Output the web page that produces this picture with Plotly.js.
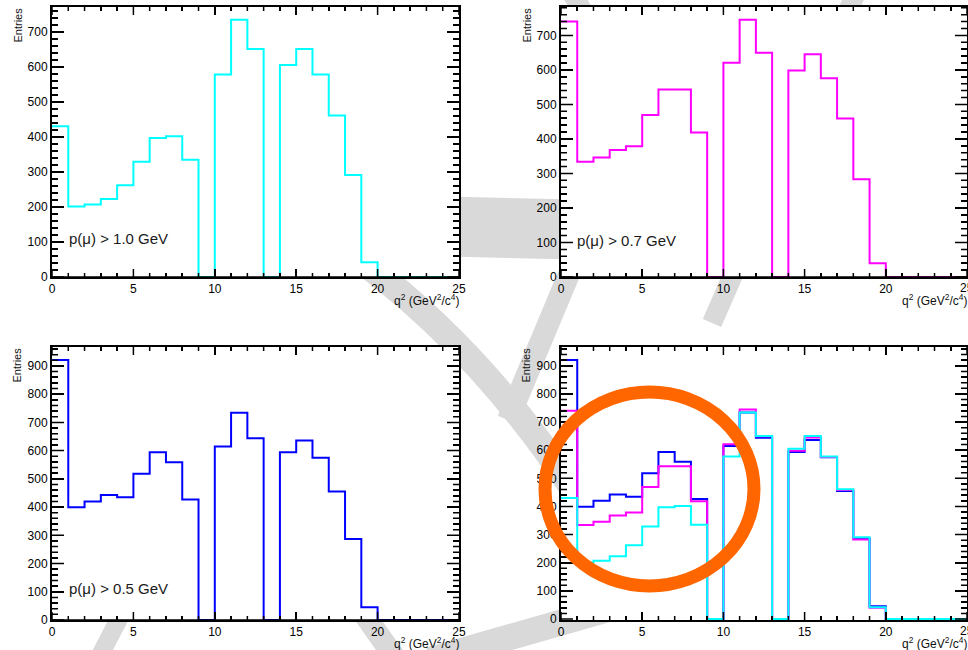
<!DOCTYPE html>
<html>
<head>
<meta charset="utf-8">
<script src="https://cdn.plot.ly/plotly-3.0.1.min.js"></script>
<style>
  html, body { margin: 0; padding: 0; background: #fff; }
  #plot { width: 968px; height: 650px; }
</style>
</head>
<body>
<div id="plot"></div>
<script>
// q^2 binning: 25 bins of 1 GeV^2/c^4 from 0 to 25
const binEdges = [0,1,2,3,4,5,6,7,8,9,10,11,12,13,14,15,16,17,18,19,20,21,22,23,24,25];
const xTickValues = [0,5,10,15,20,25];

// Entries per bin for each muon momentum cut
const entriesP10 = [430,201,207,223,262,329,397,402,335,0,578,734,651,0,605,651,578,461,291,42,0,0,0,0,0];
const entriesP07 = [740,334,346,368,379,469,543,543,419,0,621,745,650,0,598,645,576,459,283,40,0,0,0,0,0];
const entriesP05 = [921,399,420,443,435,518,594,559,427,0,615,734,644,0,594,636,575,455,287,45,0,0,0,0,0];

const cutLabels = ['p(μ) > 1.0 GeV', 'p(μ) > 0.7 GeV', 'p(μ) > 0.5 GeV'];
const seriesColors = ['#00ffff', '#ff00ff', '#0000ff'];

// ---- page geometry (pixels) ----
const W = 968, H = 650;
const px = v => v / W;
const py = v => 1 - v / H;

const colL = [52, 459], colR = [561, 967];
const rowT = [7, 277], rowB = [347, 620];
const panels = [[colL, rowT], [colR, rowT], [colL, rowB], [colR, rowB]];
const axisKeys = ['', '2', '3', '4'];

const FONT = 'Liberation Sans, Arial, Helvetica, sans-serif';

// histogram outline from bin contents (step drawn through Plotly's hv shape)
function stepY(vals) { return vals.concat([vals[vals.length - 1]]); }

function hist(vals, color, xa, ya) {
  return {
    type: 'scatter', mode: 'lines',
    x: binEdges, y: stepY(vals),
    line: { shape: 'hv', color: color, width: 2 },
    xaxis: xa, yaxis: ya, hoverinfo: 'skip', showlegend: false
  };
}

const data = [
  hist(entriesP10, seriesColors[0], 'x', 'y'),
  hist(entriesP07, seriesColors[1], 'x2', 'y2'),
  hist(entriesP05, seriesColors[2], 'x3', 'y3'),
  hist(entriesP05, seriesColors[2], 'x4', 'y4'),
  hist(entriesP07, seriesColors[1], 'x4', 'y4'),
  hist(entriesP10, seriesColors[0], 'x4', 'y4')
];

const tickFont = { family: FONT, size: 12, color: '#000' };

function xAxis(cols, anchor) {
  return {
    domain: [px(cols[0]), px(cols[1])], anchor: anchor,
    range: [0, 25], tickmode: 'array', tickvals: xTickValues,
    ticks: 'inside', ticklen: 8, tickwidth: 1.5, tickcolor: '#000',
    minor: { tickmode: 'linear', tick0: 0, dtick: 1, ticks: 'inside', ticklen: 4, tickwidth: 1.5, tickcolor: '#000' },
    showline: true, linecolor: '#000', linewidth: 2, mirror: 'ticks',
    showgrid: false, zeroline: false, tickfont: tickFont
  };
}

function yAxis(rows, anchor, lo, hi) {
  return {
    domain: [py(rows[1]), py(rows[0])], anchor: anchor,
    range: [lo, hi], tick0: 0, dtick: 100,
    ticks: 'inside', ticklen: 12, tickwidth: 1.5, tickcolor: '#000',
    minor: { tick0: 0, dtick: 20, ticks: 'inside', ticklen: 6, tickwidth: 1.5, tickcolor: '#000' },
    showline: true, linecolor: '#000', linewidth: 2, mirror: 'ticks',
    showgrid: false, zeroline: false, tickfont: tickFont
  };
}

// ROOT-style headroom: maximum * 1.05
const topTL = Math.max(...entriesP10) * 1.05;
const topTR = Math.max(...entriesP07) * 1.05;
const topB = Math.max(...entriesP05, ...entriesP07, ...entriesP10) * 1.05;
// overlay panel: baseline lifted one pixel so empty bins show along the axis
const liftBR = -topB / (rowB[1] - rowB[0]);
const yTops = [topTL, topTR, topB, topB];

// ---- light grey brush-stroke backdrop, cut out where the frames sit ----
const strokeColor = '#d9d9d9';
const strokeLines = [
  [380, 225, 640, 231, 60],
  [508, 420, 600, 200, 22],
  [855, -5, 712, 323, 20],
  [570, -10, 600, 40, 20],
  [430, 660, 640, 600, 26],
  [95, 665, 160, 540, 18],
  [400, 665, 340, 580, 22]
];
const strokeCurves = [
  [[320, 232], [470, 330], [580, 500], 26]
];
function backdropSvg() {
  const holes = panels.map(([c, r]) => `M${c[0]},${r[0]}H${c[1]}V${r[1]}H${c[0]}Z`).join(' ');
  const lines = strokeLines.map(s =>
    `<line x1="${s[0]}" y1="${s[1]}" x2="${s[2]}" y2="${s[3]}" stroke-width="${s[4]}"/>`).join('');
  const curves = strokeCurves.map(c =>
    `<path d="M${c[0][0]},${c[0][1]} Q${c[1][0]},${c[1][1]} ${c[2][0]},${c[2][1]}" stroke-width="${c[3]}"/>`).join('');
  return `<svg xmlns="http://www.w3.org/2000/svg" width="${W}" height="${H}" viewBox="0 0 ${W} ${H}">` +
    `<defs><clipPath id="gaps"><path clip-rule="evenodd" d="M0,0H${W}V${H}H0Z ${holes}"/></clipPath></defs>` +
    `<g clip-path="url(#gaps)" stroke="${strokeColor}" fill="none">${lines}${curves}</g></svg>`;
}

const images = [{
  source: 'data:image/svg+xml;charset=utf-8,' + encodeURIComponent(backdropSvg()),
  xref: 'paper', yref: 'paper', x: 0, y: 1, sizex: 1, sizey: 1,
  xanchor: 'left', yanchor: 'top', sizing: 'stretch', layer: 'below'
}];

const shapes = [];
// ROOT-style inner tick combs on all four sides of every frame
panels.forEach(([c, r], i) => {
  const k = axisKeys[i];
  const wPx = c[1] - c[0], hPx = r[1] - r[0];
  let xp = '';
  binEdges.forEach(v => {
    const len = (xTickValues.includes(v) ? 8 : 4) / hPx;
    xp += `M${v},0V${len.toFixed(5)}M${v},1V${(1 - len).toFixed(5)}`;
  });
  shapes.push({
    type: 'path', xref: 'x' + k, yref: 'y' + k + ' domain', layer: 'above',
    path: xp, fillcolor: 'rgba(0,0,0,0)', line: { color: '#000', width: 1.5 }
  });
  let yp = '';
  for (let v = 0; v <= yTops[i]; v += 20) {
    const len = (v % 100 === 0 ? 12 : 6) / wPx;
    yp += `M0,${v}H${len.toFixed(5)}M1,${v}H${(1 - len).toFixed(5)}`;
  }
  shapes.push({
    type: 'path', xref: 'x' + k + ' domain', yref: 'y' + k, layer: 'above',
    path: yp, fillcolor: 'rgba(0,0,0,0)', line: { color: '#000', width: 1.5 }
  });
});
// frame bottom edge drawn over empty bins in the single-cut panels
panels.slice(0, 3).forEach(([c, r]) => shapes.push({
  type: 'line', xref: 'paper', yref: 'paper', layer: 'above',
  x0: px(c[0]), x1: px(c[1]), y0: py(r[1]), y1: py(r[1]),
  line: { color: '#000', width: 1.5 }
}));
// orange highlight ring on the overlay panel
shapes.push({
  type: 'circle', xref: 'paper', yref: 'paper', layer: 'above',
  x0: px(545), x1: px(754), y0: py(586), y1: py(392),
  line: { color: '#ff6600', width: 13 }
});

const annotations = [];
const qTitle = 'q<sup>2</sup> (GeV<sup>2</sup>/c<sup>4</sup>)';
panels.forEach(([c, r]) => {
  annotations.push({
    xref: 'paper', yref: 'paper', x: px(c[1] + 2), y: py(r[1] + 23),
    xanchor: 'right', yanchor: 'middle', showarrow: false,
    text: qTitle, font: { family: FONT, size: 12, color: '#111' }
  });
  annotations.push({
    xref: 'paper', yref: 'paper', x: px(c[0] - 35), y: py(r[0] - 1),
    xanchor: 'center', yanchor: 'top', showarrow: false, textangle: -90,
    text: 'Entries', font: { family: FONT, size: 11, color: '#111' }
  });
});
// last x label of the right-hand panels runs off the page edge
[rowT, rowB].forEach(r => annotations.push({
  xref: 'paper', yref: 'paper', x: px(colR[1]), y: py(r[1] + 2),
  xanchor: 'center', yanchor: 'top', showarrow: false,
  text: String(xTickValues[xTickValues.length - 1]), font: tickFont
}));
[[67, 238], [575, 240], [67, 588]].forEach((p, i) => annotations.push({
  xref: 'paper', yref: 'paper', x: px(p[0]), y: py(p[1]),
  xanchor: 'left', yanchor: 'middle', showarrow: false,
  text: cutLabels[i], font: { family: FONT, size: 15, color: '#1a1a1a' }
}));

const layout = {
  width: W, height: H,
  margin: { l: 0, r: 0, t: 0, b: 0, pad: 0 },
  paper_bgcolor: '#ffffff', plot_bgcolor: '#ffffff',
  showlegend: false,
  xaxis: xAxis(colL, 'y'), yaxis: yAxis(rowT, 'x', 0, topTL),
  xaxis2: xAxis(colR, 'y2'), yaxis2: yAxis(rowT, 'x2', 0, topTR),
  xaxis3: xAxis(colL, 'y3'), yaxis3: yAxis(rowB, 'x3', 0, topB),
  xaxis4: xAxis(colR, 'y4'), yaxis4: yAxis(rowB, 'x4', liftBR, topB),
  images: images,
  shapes: shapes,
  annotations: annotations
};

Plotly.newPlot('plot', data, layout, { staticPlot: true, displayModeBar: false });
</script>
</body>
</html>
